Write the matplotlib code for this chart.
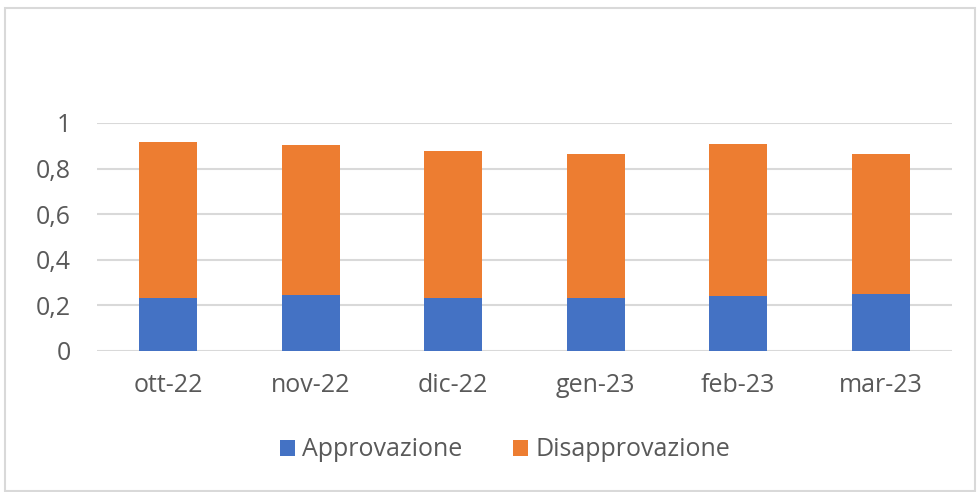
import matplotlib.pyplot as plt
import numpy as np
from matplotlib.patches import Rectangle

plt.rcParams['font.family'] = ['Open Sans', 'DejaVu Sans']

# data
mesi = ['ott-22', 'nov-22', 'dic-22', 'gen-23', 'feb-23', 'mar-23']
approvazione = [0.232, 0.247, 0.232, 0.232, 0.240, 0.251]
totale = [0.915, 0.903, 0.876, 0.865, 0.909, 0.865]
disapprovazione = [t - a for t, a in zip(totale, approvazione)]

blu = '#4472c4'
arancio = '#ed7d31'
grigio = '#595959'

fig = plt.figure(figsize=(9.78, 4.92), dpi=100)
W, H = 978, 492
ax = fig.add_axes([97 / W, 1 - 351 / H, (952 - 97) / W, (351 - 123) / H])

x = np.arange(len(mesi))
ax.bar(x, approvazione, width=0.41, color=blu, label='Approvazione', zorder=3)
ax.bar(x, disapprovazione, width=0.41, bottom=approvazione, color=arancio,
       label='Disapprovazione', zorder=3)

ax.set_xlim(-0.5, len(mesi) - 0.5)
ax.set_ylim(0, 1)
yt = np.arange(0, 1.01, 0.2)
ax.set_yticks(yt, labels=[('%g' % v).replace('.', ',') for v in yt])
ax.set_xticks(x, labels=mesi)
ax.tick_params(length=0, labelsize=18, labelcolor=grigio)
ax.tick_params(axis='y', pad=19)
ax.tick_params(axis='x', pad=16)
ax.grid(axis='y', color='#d9d9d9', linewidth=1.5, zorder=0)
for s in ax.spines.values():
    s.set_visible(False)

ax.legend(loc='center', bbox_to_anchor=(505 / W, 1 - 450 / H), bbox_transform=fig.transFigure,
          ncol=2, frameon=False, fontsize=18, labelcolor=grigio,
          handlelength=0.6, handleheight=0.6, handletextpad=0.3, columnspacing=2.0)

# outer frame of the chart area
fig.patches.append(Rectangle((5 / W, 1 / H), (975 - 5) / W, (484 - 1) / H,
                             transform=fig.transFigure, fill=False,
                             edgecolor='#d9d9d9', linewidth=1.5))

fig.savefig('out.png', dpi=100)
